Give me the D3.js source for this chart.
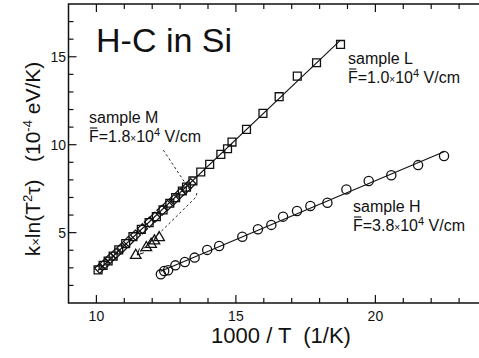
<!DOCTYPE html>
<html>
<head>
<meta charset="utf-8">
<script src="https://cdn.jsdelivr.net/npm/d3@7"></script>
<style>
  body { margin: 0; background: #fff; }
  svg { display: block; }
  text { font-family: "Liberation Sans", Arial, Helvetica, sans-serif; fill: #111; white-space: pre; }
</style>
</head>
<body>
<div id="chart"></div>
<script>
// sample L (squares)
const lX = [10.06, 10.24, 10.42, 10.60, 10.80, 11.05, 11.31, 11.61, 11.89, 12.15, 12.39, 12.63, 12.84, 13.08, 13.23, 13.46, 13.74, 14.06, 14.46, 14.70, 14.86, 15.38, 15.97, 16.55, 17.20, 17.89, 18.75];
const lY = [2.88, 3.14, 3.39, 3.67, 4.02, 4.38, 4.77, 5.19, 5.57, 5.91, 6.29, 6.67, 6.99, 7.37, 7.59, 7.94, 8.45, 8.88, 9.45, 9.77, 10.15, 10.87, 11.78, 12.73, 13.90, 14.66, 15.70];

// sample M (diamonds, on the L line)
const mX = [10.12, 10.30, 10.50, 10.70, 10.92, 11.15, 11.40, 11.65, 11.90, 12.10, 12.35, 12.55, 12.78, 13.00, 13.20, 13.38];
const mY = [2.97, 3.22, 3.54, 3.82, 4.14, 4.50, 4.86, 5.22, 5.60, 5.88, 6.27, 6.55, 6.88, 7.23, 7.50, 7.79];

// sample M shifted (triangles)
const tX = [11.41, 11.79, 11.96, 12.08, 12.25];
const tY = [3.71, 4.15, 4.34, 4.53, 4.72];

// sample H (circles)
const hX = [12.31, 12.43, 12.57, 12.83, 13.17, 13.52, 13.97, 14.40, 15.23, 15.79, 16.27, 16.69, 17.19, 17.67, 18.28, 18.96, 19.76, 20.57, 21.53, 22.46];
const hY = [2.63, 2.82, 2.86, 3.14, 3.33, 3.58, 4.02, 4.24, 4.77, 5.19, 5.44, 5.91, 6.23, 6.52, 6.70, 7.46, 7.94, 8.26, 8.84, 9.36];

const xTickLabels = [10, 15, 20];
const yTickLabels = [5, 10, 15];

// dashed pointer from "sample M" label
const leaderX = [12.40, 13.35];
const leaderY = [9.69, 7.42];
const arrowX = [13.60, 13.57, 11.46];
const arrowY = [7.25, 7.02, 3.73];

const W = 479, H = 358;
const svg = d3.select('#chart').append('svg').attr('width', W).attr('height', H);

const x = d3.scaleLinear().domain([9, 24]).range([68.5, 487]);
const y = d3.scaleLinear().domain([1, 18]).range([303, 4]);

// frame
svg.append('rect')
  .attr('x', x(9)).attr('y', y(18))
  .attr('width', x(24) - x(9)).attr('height', y(1) - y(18))
  .attr('fill', 'none').attr('stroke', '#111').attr('stroke-width', 1.5);

// inward ticks, all four sides
const minorX = d3.range(10, 24, 1), minorY = d3.range(2, 18, 1);
function tickLen(v) { return v % 5 === 0 ? 8 : 5; }
const tk = svg.append('g').attr('stroke', '#111').attr('stroke-width', 1.2);
minorX.forEach(v => {
  tk.append('line').attr('x1', x(v)).attr('x2', x(v)).attr('y1', y(1)).attr('y2', y(1) - tickLen(v));
  tk.append('line').attr('x1', x(v)).attr('x2', x(v)).attr('y1', y(18)).attr('y2', y(18) + tickLen(v));
});
minorY.forEach(v => {
  tk.append('line').attr('y1', y(v)).attr('y2', y(v)).attr('x1', x(9)).attr('x2', x(9) + tickLen(v));
  tk.append('line').attr('y1', y(v)).attr('y2', y(v)).attr('x1', x(24)).attr('x2', x(24) - tickLen(v));
});

svg.append('g').selectAll('text').data(xTickLabels).join('text')
  .attr('x', d => x(d)).attr('y', 321).attr('text-anchor', 'middle')
  .attr('font-size', 14).text(d => d);
svg.append('g').selectAll('text').data(yTickLabels).join('text')
  .attr('x', 66).attr('y', d => y(d) + 5).attr('text-anchor', 'end')
  .attr('font-size', 14).text(d => d);

// axis titles
svg.append('text').attr('x', 281).attr('y', 343).attr('text-anchor', 'middle')
  .attr('font-size', 22).text('1000 / T  (1/K)');

const yl = svg.append('text').attr('transform', 'translate(40,159) rotate(-90)')
  .attr('text-anchor', 'middle').attr('font-size', 21);
yl.append('tspan').text('k');
yl.append('tspan').attr('font-size', 13).text('×');
yl.append('tspan').text('ln(T');
yl.append('tspan').attr('font-size', 13).attr('dy', -8).text('2');
yl.append('tspan').attr('dy', 8).text('τ)   (10');
yl.append('tspan').attr('font-size', 13).attr('dy', -8).text('-4');
yl.append('tspan').attr('dy', 8).text(' eV/K)');

// fit lines
function fit(xs, ys) {
  const mx = d3.mean(xs), my = d3.mean(ys);
  const b = d3.sum(xs, (v, i) => (v - mx) * (ys[i] - my)) / d3.sum(xs, v => (v - mx) ** 2);
  const a = my - b * mx;
  const x0 = d3.min(xs), x1 = d3.max(xs);
  return [[x0, a + b * x0], [x1, a + b * x1]];
}
const line = d3.line().x(d => x(d[0])).y(d => y(d[1]));
svg.append('path').attr('d', line(fit(lX, lY))).attr('fill', 'none').attr('stroke', '#111').attr('stroke-width', 1.1);
svg.append('path').attr('d', line(fit(hX, hY))).attr('fill', 'none').attr('stroke', '#111').attr('stroke-width', 1.1);

// markers
const mk = svg.append('g').attr('fill', 'none').attr('stroke', '#111').attr('stroke-width', 1.3);
const sq = d3.symbol().type(d3.symbolSquare).size(62);
mk.selectAll('.sq').data(d3.zip(lX, lY)).join('path').attr('class', 'sq')
  .attr('d', sq).attr('transform', d => `translate(${x(d[0])},${y(d[1])})`);
const dm = d3.symbol().type(d3.symbolSquare).size(50);
mk.selectAll('.dm').data(d3.zip(mX, mY)).join('path').attr('class', 'dm')
  .attr('d', dm).attr('transform', d => `translate(${x(d[0])},${y(d[1])}) rotate(45)`);
const tri = d3.symbol().type(d3.symbolTriangle).size(48);
mk.selectAll('.tr').data(d3.zip(tX, tY)).join('path').attr('class', 'tr')
  .attr('d', tri).attr('transform', d => `translate(${x(d[0])},${y(d[1])})`);
mk.selectAll('.ci').data(d3.zip(hX, hY)).join('circle').attr('class', 'ci')
  .attr('cx', d => x(d[0])).attr('cy', d => y(d[1])).attr('r', 4.6);

// dashed pointers
const ann = svg.append('g').attr('fill', 'none').attr('stroke', '#111').attr('stroke-width', 0.9).attr('stroke-dasharray', '2.5,2.5');
ann.append('path').attr('d', line(d3.zip(leaderX, leaderY)));
ann.append('path').attr('d', line(d3.zip(arrowX, arrowY)));
// arrow head at the triangles
const ex = x(arrowX[2]), ey = y(arrowY[2]);
const ang = Math.atan2(y(arrowY[1]) - ey, x(arrowX[1]) - ex);
const hl = 7, spread = 0.45;
svg.append('path')
  .attr('d', `M${ex + hl * Math.cos(ang - spread)},${ey + hl * Math.sin(ang - spread)} L${ex},${ey} L${ex + hl * Math.cos(ang + spread)},${ey + hl * Math.sin(ang + spread)}`)
  .attr('fill', 'none').attr('stroke', '#111').attr('stroke-width', 1);

// labels
svg.append('text').attr('x', 96).attr('y', 52).attr('font-size', 34).text('H-C in Si');

function sampleLabel(px, py, name, field) {
  const g = svg.append('g');
  g.append('text').attr('x', px).attr('y', py).attr('font-size', 16).text('sample ' + name);
  const t = g.append('text').attr('x', px).attr('y', py + 19).attr('font-size', 16);
  t.append('tspan').text('F=' + field);
  t.append('tspan').attr('font-size', 10).text('×');
  t.append('tspan').text('10');
  t.append('tspan').attr('font-size', 11).attr('dy', -6).text('4');
  t.append('tspan').attr('dy', 6).text(' V/cm');
  // bar over the F (mean field)
  const fw = t.node().getSubStringLength(0, 1);
  g.append('line')
    .attr('x1', px + 1).attr('x2', px + fw - 1.5)
    .attr('y1', py + 19 - 14).attr('y2', py + 19 - 14)
    .attr('stroke', '#111').attr('stroke-width', 1.1);
}
sampleLabel(348, 64, 'L', '1.0');
sampleLabel(89, 123, 'M', '1.8');
sampleLabel(353, 212, 'H', '3.8');
</script>
</body>
</html>
